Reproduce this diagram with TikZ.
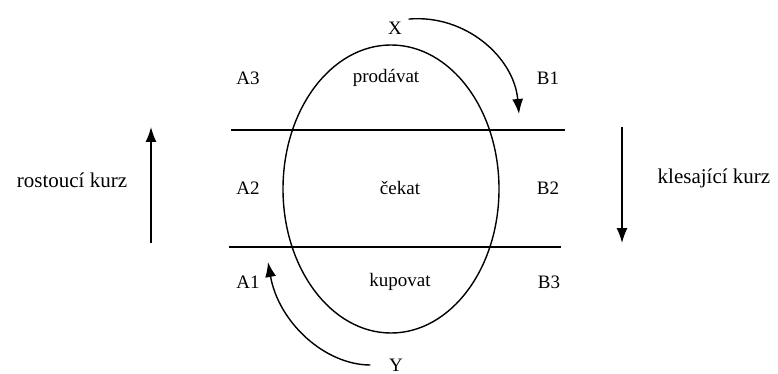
\documentclass[tikz,border=0pt]{standalone}
\usepackage{fontspec}
\setmainfont{Liberation Serif}
\usetikzlibrary{shapes,arrows.meta,positioning}

\tikzset{
  lbl/.style={inner sep=2pt},
  side/.style={inner sep=2pt, font=\fontsize{21}{24}\selectfont},
  arr/.style={-{Latex[length=15pt,width=11pt]}, line width=1.4pt}
}

\begin{document}
\begin{tikzpicture}[x=1pt, y=-1pt, font=\fontsize{19}{22}\selectfont, line width=1.4pt]
\useasboundingbox (0,0) rectangle (778,374);

\node[draw, ellipse, minimum width=216pt, minimum height=288pt] (market) at (391,189) {};
\draw (231,130) -- (565,130);
\draw (229,247) -- (561,247);

\node[lbl] (x) at (395,28) {X};
\node[lbl] (a3) at (248,78) {A3};
\node[lbl] (sell) at (386,78) {prodávat};
\node[lbl] (b1) at (548,78) {B1};
\node[lbl] (a2) at (248,188) {A2};
\node[lbl] (wait) at (400,188) {čekat};
\node[lbl] (b2) at (548,188) {B2};
\node[lbl] (a1) at (248,282) {A1};
\node[lbl] (buy) at (400,282) {kupovat};
\node[lbl] (b3) at (549,282) {B3};
\node[lbl] (y) at (396,365) {Y};

\node[side] (rise) at (72,180) {rostoucí kurz};
\node[side] (fall) at (714,178) {klesající kurz};

\coordinate (xend) at (519,114);
\coordinate (yend) at (268,262);
\draw[arr] ([xshift=4pt]x.north east) to[out=5, in=95] (xend);
\draw[arr, shorten <=16pt] (y.west) to[out=180, in=-80] (yend);

\coordinate (up0) at (151,243);
\coordinate (up1) at (151,127);
\coordinate (down0) at (622,127);
\coordinate (down1) at (622,243);
\draw[arr] (up0) -- (up1);
\draw[arr] (down0) -- (down1);
\end{tikzpicture}
\end{document}
